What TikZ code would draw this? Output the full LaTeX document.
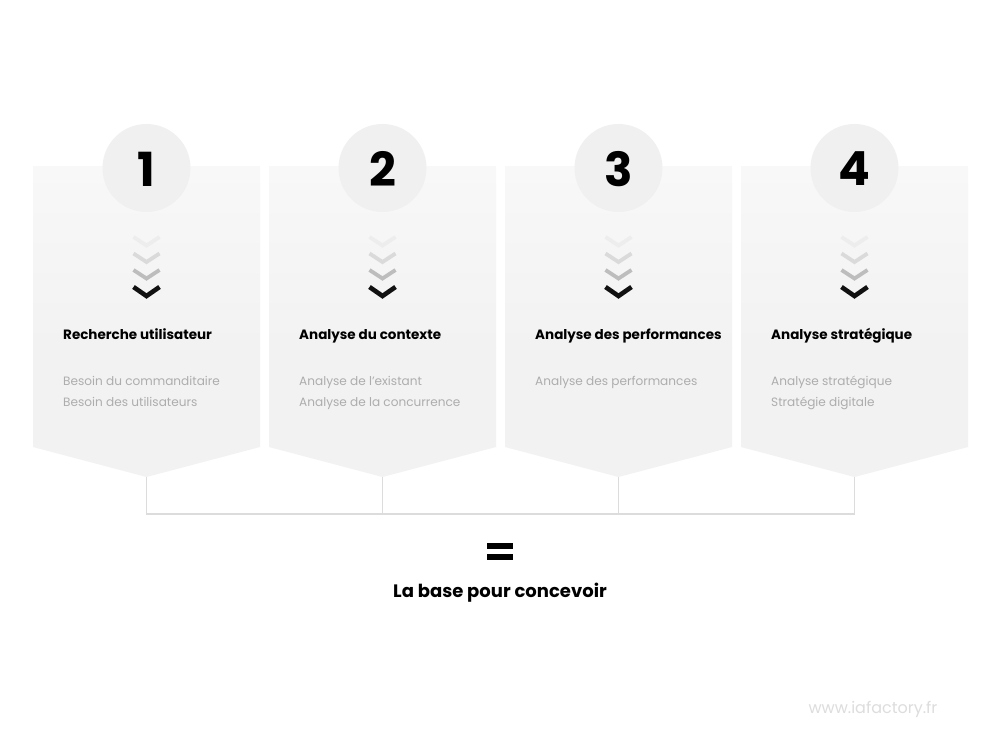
\documentclass[tikz,border=0pt]{standalone}
\usepackage{fontspec}
\setmainfont{Poppins}
\definecolor{panelgray}{HTML}{F2F2F2}
\definecolor{paneltop}{HTML}{F8F8F8}
\definecolor{circlegray}{HTML}{F0F0F0}
\definecolor{subgray}{HTML}{ADADAD}
\definecolor{linegray}{HTML}{DCDCDC}
\definecolor{wmgray}{HTML}{DDDDDD}
\definecolor{chevA}{HTML}{EDEDED}
\definecolor{chevB}{HTML}{DADADA}
\definecolor{chevC}{HTML}{BDBDBD}
\definecolor{chevD}{HTML}{111111}
\begin{document}
\begin{tikzpicture}[x=1pt,y=-1pt,
  numstyle/.style={font=\fontsize{47}{47}\selectfont\bfseries, text=black, inner sep=0pt},
  titlestyle/.style={anchor=base west, font=\fontsize{13.5}{16}\selectfont\bfseries, text=black, inner sep=0pt},
  substyle/.style={anchor=base west, font=\fontsize{12.1}{15}\selectfont, text=subgray, inner sep=0pt},
  chev/.style={line width=3.8pt, line cap=butt, line join=miter},
  connector/.style={draw=linegray, line width=1.3pt}]
\useasboundingbox (0,0) rectangle (1001,751);
\fill[white] (0,0) rectangle (1001,751);

% panels, circles, chevrons
\foreach \L/\n in {33/1,269/2,505/3,741/4}{
  \pgfmathsetmacro{\R}{\L+227}
  \pgfmathsetmacro{\C}{\L+113.5}
  \shade[top color=paneltop, middle color=white, bottom color=panelgray] (\L,167) rectangle (\R,348);
  \fill[panelgray] (\L,348) -- (\R,348) -- (\R,447) -- (\C,477) -- (\L,447) -- cycle;
  \coordinate (tip\n) at (\C,477);
  \coordinate (join\n) at (\C,514);
  \fill[circlegray] (\C,168) circle[radius=44];
  \node[numstyle] (num\n) at (\C,169) {\n};
  \draw[chev, draw=chevA] (\C-13,237) -- (\C,245.5) -- (\C+13,237);
  \draw[chev, draw=chevB] (\C-13,253.5) -- (\C,262) -- (\C+13,253.5);
  \draw[chev, draw=chevC] (\C-13,270) -- (\C,278.5) -- (\C+13,270);
  \draw[chev, draw=chevD, line width=4.6pt] (\C-13,287) -- (\C,296) -- (\C+13,287);
}

% titles
\node[titlestyle] (t1) at (63,339) {Recherche utilisateur};
\node[titlestyle] (t2) at (299,339) {Analyse du contexte};
\node[titlestyle] (t3) at (535,339) {Analyse des performances};
\node[titlestyle] (t4) at (771,339) {Analyse stratégique};

% sub items
\node[substyle] (s1a) at (63,385.5) {Besoin du commanditaire};
\node[substyle] (s1b) at (63,406.5) {Besoin des utilisateurs};
\node[substyle] (s2a) at (299,385.5) {Analyse de l’existant};
\node[substyle] (s2b) at (299,406.5) {Analyse de la concurrence};
\node[substyle] (s3a) at (535,385.5) {Analyse des performances};
\node[substyle] (s4a) at (771,385.5) {Analyse stratégique};
\node[substyle] (s4b) at (771,406.5) {Stratégie digitale};

% connectors
\draw[connector] (tip1) -- (join1) -- (join4) -- (tip4);
\draw[connector] (tip2) -- (join2);
\draw[connector] (tip3) -- (join3);

% equals sign
\fill[black] (487,543) rectangle (513,549);
\fill[black] (487,554) rectangle (513,560);

\node[font=\fontsize{18}{22}\selectfont\bfseries, text=black, inner sep=0pt] (base) at (500,593) {La base pour concevoir};

\node[font=\fontsize{16}{18}\selectfont, text=wmgray, inner sep=0pt] (wm) at (873,709) {www.iafactory.fr};
\end{tikzpicture}
\end{document}
